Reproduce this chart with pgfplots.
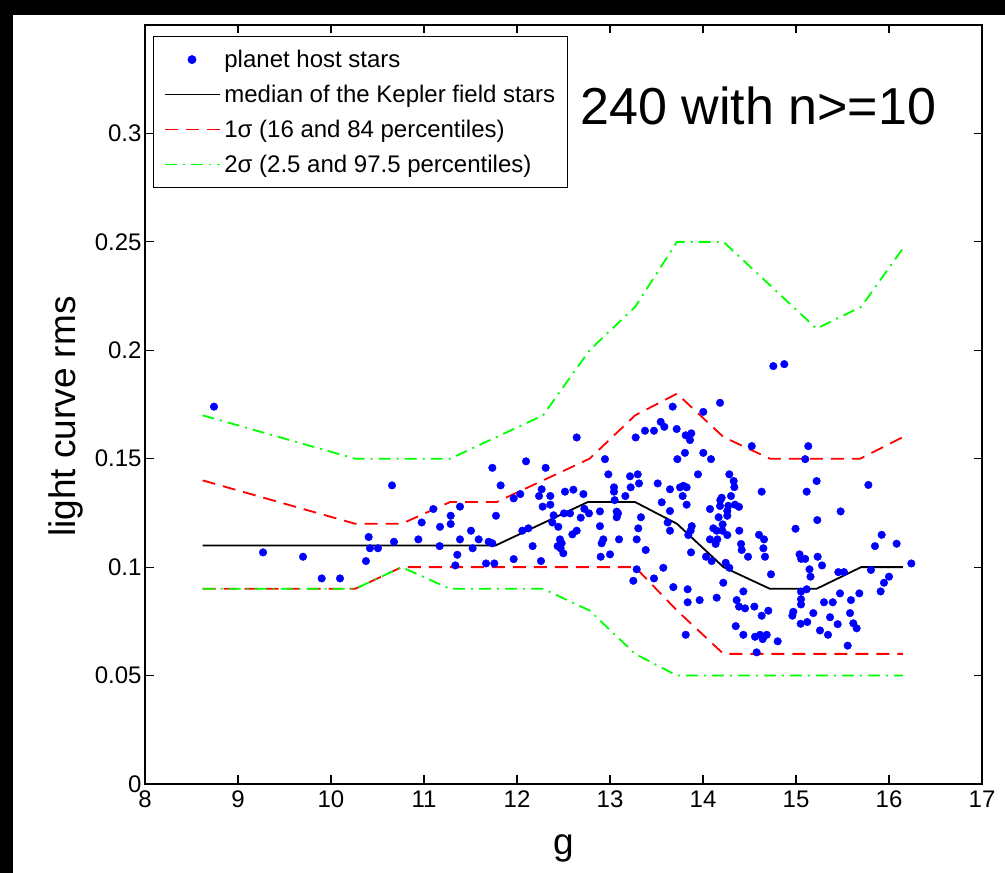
\documentclass[border=0pt]{standalone}
\usepackage{pgfplots}
\pgfplotsset{compat=1.18}
\usepackage{pgfplotstable}
\usepackage{fontspec}
\setmainfont{Liberation Sans}
\definecolor{mblue}{RGB}{0,0,255}
\definecolor{mred}{RGB}{255,0,0}
\definecolor{mgreen}{RGB}{0,255,0}

\pgfplotstableread{
g y
8.742 0.1740
9.269 0.1068
9.699 0.1048
9.900 0.0948
10.097 0.0948
10.376 0.1028
10.405 0.1139
10.419 0.1087
10.505 0.1087
10.656 0.1377
10.677 0.1117
10.939 0.1128
10.975 0.1206
11.100 0.1268
11.172 0.1186
11.168 0.1097
11.287 0.1237
11.287 0.1199
11.387 0.1279
11.387 0.1128
11.358 0.1057
11.337 0.1008
11.505 0.1168
11.523 0.1087
11.588 0.1128
11.667 0.1017
11.695 0.1117
11.735 0.1110
11.756 0.1017
11.735 0.1458
11.774 0.1237
11.824 0.1377
11.964 0.1037
11.964 0.1317
12.035 0.1337
12.057 0.1168
12.122 0.1179
12.097 0.1488
12.168 0.1097
12.237 0.1328
12.265 0.1359
12.308 0.1458
12.276 0.1279
12.358 0.1328
12.358 0.1288
12.258 0.1028
12.394 0.1239
12.380 0.1206
12.444 0.1186
12.437 0.1097
12.516 0.1348
12.606 0.1357
12.714 0.1337
12.505 0.1248
12.570 0.1248
12.462 0.1128
12.480 0.1110
12.469 0.1087
12.498 0.1064
12.642 0.1598
12.595 0.1151
12.642 0.1168
12.685 0.1228
12.724 0.1269
12.774 0.1248
12.946 0.1498
12.982 0.1428
12.892 0.1257
12.892 0.1189
12.928 0.1128
12.910 0.1110
12.900 0.1048
13.000 0.1059
13.097 0.1128
13.043 0.1368
13.043 0.1348
13.050 0.1309
13.072 0.1256
13.072 0.1230
13.086 0.1248
13.165 0.1328
13.215 0.1419
13.222 0.1368
13.298 0.1428
13.312 0.1386
13.276 0.1598
13.376 0.1629
13.473 0.1629
13.545 0.1670
13.584 0.1647
13.674 0.1740
13.717 0.1637
13.333 0.1230
13.304 0.1179
13.287 0.1128
13.384 0.1079
13.251 0.0937
13.287 0.0990
13.473 0.0948
13.556 0.1299
13.513 0.1386
13.645 0.1359
13.645 0.1259
13.620 0.1206
13.645 0.1168
13.573 0.0997
13.681 0.0908
13.724 0.1498
13.806 0.1527
13.814 0.1608
13.860 0.1586
13.874 0.1617
13.753 0.1368
13.789 0.1375
13.824 0.1368
13.781 0.1328
13.824 0.1288
13.879 0.1189
13.867 0.1168
13.842 0.1148
13.871 0.1068
13.835 0.0898
13.835 0.0838
13.814 0.0688
13.964 0.0848
13.946 0.1428
14.003 0.1716
14.003 0.1527
14.086 0.1498
14.183 0.1758
14.075 0.1268
14.111 0.1179
14.147 0.1168
14.208 0.1168
14.211 0.1197
14.168 0.1230
14.186 0.1309
14.201 0.1320
14.183 0.1282
14.075 0.1128
14.136 0.1107
14.154 0.1128
14.032 0.1048
14.093 0.1028
14.147 0.0859
14.218 0.0928
14.244 0.1020
14.283 0.0997
14.261 0.1148
14.261 0.1259
14.261 0.1237
14.272 0.1283
14.301 0.1328
14.337 0.1369
14.330 0.1397
14.283 0.1428
14.344 0.1288
14.387 0.1278
14.390 0.1168
14.409 0.1107
14.416 0.1079
14.484 0.1048
14.434 0.0888
14.362 0.0848
14.387 0.0818
14.452 0.0810
14.552 0.0818
14.352 0.0728
14.434 0.0688
14.559 0.0679
14.613 0.0688
14.642 0.0668
14.685 0.0688
14.577 0.0607
14.631 0.0776
14.702 0.0799
14.803 0.0658
14.524 0.1558
14.631 0.1348
14.602 0.1149
14.656 0.1128
14.649 0.1087
14.667 0.1048
14.731 0.0967
14.756 0.1927
14.874 0.1936
14.995 0.1177
15.038 0.1059
15.056 0.1038
15.099 0.1038
15.145 0.0990
15.156 0.0956
15.099 0.1498
15.132 0.1558
15.115 0.1348
15.222 0.1397
15.229 0.1217
15.233 0.1048
15.280 0.1008
15.054 0.0887
15.115 0.0898
15.054 0.0852
15.054 0.0828
14.971 0.0794
14.961 0.0776
15.050 0.0739
15.121 0.0747
15.186 0.0788
15.258 0.0708
15.301 0.0838
15.344 0.0688
15.366 0.0769
15.395 0.0838
15.448 0.0737
15.480 0.1257
15.455 0.0977
15.516 0.0977
15.473 0.0879
15.556 0.0638
15.581 0.0788
15.591 0.0848
15.616 0.0741
15.652 0.0718
15.681 0.0879
15.778 0.1379
15.806 0.0987
15.849 0.1097
15.921 0.1149
15.910 0.0888
15.946 0.0928
16.000 0.0956
16.082 0.1108
16.240 0.1017
}\hosts

\pgfplotstableread{
g y
8.62 0.11
11.77 0.11
12.76 0.13
13.27 0.13
13.72 0.12
14.22 0.10
14.72 0.09
15.22 0.09
15.70 0.10
16.15 0.10
}\median

\pgfplotstableread{
g y
8.62 0.14
10.26 0.12
10.76 0.12
11.28 0.13
11.78 0.13
12.28 0.14
12.78 0.15
13.27 0.17
13.72 0.18
14.22 0.16
14.72 0.15
15.69 0.15
16.15 0.16
}\redup

\pgfplotstableread{
g y
8.62 0.09
10.26 0.09
10.76 0.10
13.27 0.10
13.72 0.08
14.22 0.06
16.15 0.06
}\redlo

\pgfplotstableread{
g y
8.62 0.17
10.26 0.15
11.28 0.15
12.28 0.17
12.78 0.20
13.27 0.22
13.72 0.25
14.22 0.25
15.22 0.21
15.70 0.22
16.15 0.247
}\greenup

\pgfplotstableread{
g y
8.62 0.09
10.26 0.09
10.76 0.10
11.28 0.09
12.28 0.09
12.78 0.08
13.27 0.06
13.72 0.05
16.15 0.05
}\greenlo

\begin{document}
\begin{tikzpicture}
\useasboundingbox (0,0) rectangle (1005bp,873bp);
\fill[black] (0,0) rectangle (13bp,873bp);
\fill[black] (0,858bp) rectangle (1005bp,873bp);
\begin{axis}[
  at={(145bp,89bp)}, anchor=south west,
  scale only axis, width=837bp, height=759bp,
  xmin=8, xmax=17, ymin=0, ymax=0.35,
  xtick={8,9,...,17},
  ytick={0,0.05,0.1,0.15,0.2,0.25,0.3},
  yticklabels={0,0.05,0.1,0.15,0.2,0.25,0.3},
  scaled y ticks=false,
  tick align=inside, xtick pos=both, ytick pos=both,
  major tick length=8.5bp,
  every tick/.style={black, line width=1.2bp},
  axis line style={line width=1.6bp},
  /pgf/number format/assume math mode=true,
  ticklabel style={font=\fontsize{24bp}{28bp}\selectfont},
  xticklabel style={yshift=-3bp},
  xlabel={g}, ylabel={light curve rms},
  every axis x label/.style={at={(axis description cs:0.5,0)}, anchor=north, inner sep=0pt, yshift=-50bp, font=\fontsize{37bp}{42bp}\selectfont},
  every axis y label/.style={at={(axis description cs:0,0.484)}, xshift=-62bp, anchor=south, inner sep=0pt, rotate=90, font=\fontsize{37bp}{42bp}\selectfont},
  legend style={at={(8bp,748bp)}, anchor=north west, draw=black, line width=1.2bp,
    font=\fontsize{24bp}{28bp}\selectfont, inner xsep=10bp, inner ysep=9bp,
    nodes={inner sep=2bp, text height=20bp, text depth=4bp}, row sep=7bp, column sep=2bp},
  legend cell align=left,
]
\addlegendimage{legend image code/.code={\fill[mblue] (27.5bp,0bp) circle[radius=3.8bp];}}
\addlegendimage{legend image code/.code={\draw[black, line width=1.8bp] (0bp,0bp) -- (55bp,0bp);}}
\addlegendimage{legend image code/.code={\draw[mred, line width=1.8bp, dash pattern=on 13bp off 8bp] (0bp,0bp) -- (55bp,0bp);}}
\addlegendimage{legend image code/.code={\draw[mgreen, line width=1.8bp, dash pattern=on 12bp off 6bp on 2bp off 6bp] (0bp,0bp) -- (55bp,0bp);}}
\legend{planet host stars, median of the Kepler field stars, 1σ (16 and 84 percentiles), 2σ (2.5 and 97.5 percentiles)}

\addplot[forget plot, color=black, line width=1.8bp] table[x=g,y=y] {\median};
\addplot[forget plot, color=mred, line width=1.8bp, dash pattern=on 13bp off 8bp] table[x=g,y=y] {\redup};
\addplot[forget plot, color=mred, line width=1.8bp, dash pattern=on 13bp off 8bp] table[x=g,y=y] {\redlo};
\addplot[forget plot, color=mgreen, line width=1.8bp, dash pattern=on 12bp off 6bp on 2bp off 6bp] table[x=g,y=y] {\greenup};
\addplot[forget plot, color=mgreen, line width=1.8bp, dash pattern=on 12bp off 6bp on 2bp off 6bp] table[x=g,y=y] {\greenlo};
\addplot[forget plot, only marks, mark=*, mark size=3.8bp, color=mblue, mark options={draw=mblue, fill=mblue}] table[x=g,y=y] {\hosts};

\node[anchor=base west, inner sep=0pt, font=\fontsize{52bp}{58bp}\selectfont] at (axis cs:12.68,0.3043) {240 with n>=10};
\end{axis}
\end{tikzpicture}
\end{document}
